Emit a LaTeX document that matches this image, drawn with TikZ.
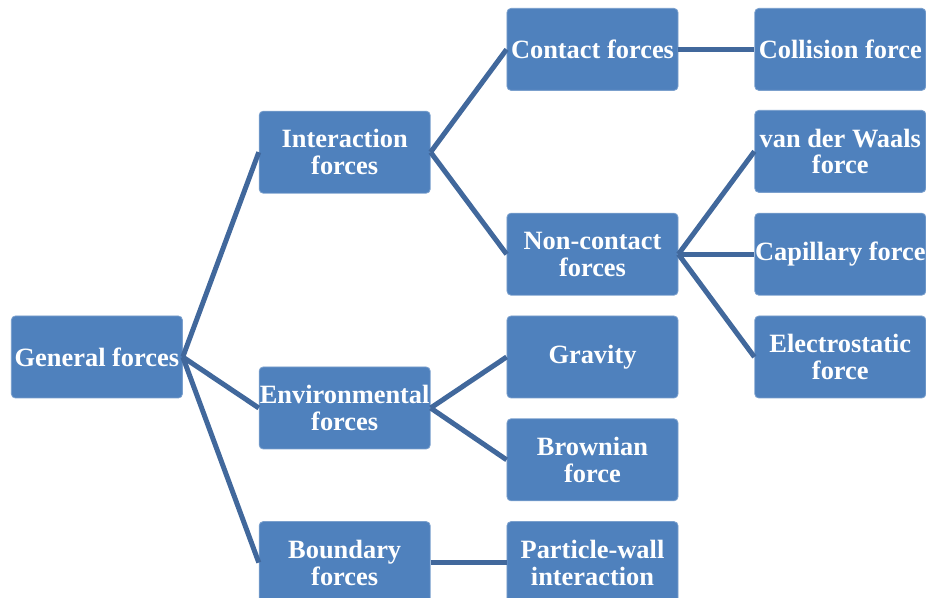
\documentclass[tikz,border=0pt]{standalone}
\usepackage{fontspec}
\setmainfont{Liberation Serif}
\usetikzlibrary{positioning}
\definecolor{boxblue}{HTML}{4F81BD}
\definecolor{linkblue}{HTML}{41689C}

\begin{document}
\begin{tikzpicture}
		[node distance=10pt and 38pt,
		force/.style={rectangle,rounded corners=2pt,draw=boxblue!75!white,fill=boxblue,line width=0.4pt,
			inner sep=0pt,minimum width=85.5pt,minimum height=41pt,align=center,text=white,
			font=\fontsize{13.2}{13.4}\selectfont\bfseries},
		link/.style={draw=linkblue,line width=2.5pt}]
		\useasboundingbox (-296.25pt,178.5pt) rectangle (166.75pt,-120.5pt);

		\node [force] (grav) at (0,0) {Gravity};
		\node [force] (brown) [below=of grav] {Brownian\\force};
		\node [force] (pwall) [below=of brown] {Particle-wall\\interaction};
		\node [force] (noncon) [above=of grav] {Non-contact\\forces};
		\node [force] (contact) [above=61pt of noncon] {Contact forces};

		\node [force] (coll) [right=of contact] {Collision force};
		\node [force] (cap) [right=of noncon] {Capillary force};
		\node [force] (vdw) [above=of cap] {van der Waals\\force};
		\node [force] (elec) [below=of cap] {Electrostatic\\force};

		\node [force] (inter) [left=of noncon, yshift=51pt] {Interaction\\forces};
		\node [force] (env) [left=of grav, yshift=-25.5pt] {Environmental\\forces};
		\node [force] (bound) [left=of pwall] {Boundary\\forces};
		\node [force] (gen) [left=of env, yshift=25.5pt] {General forces};

		\draw [link] (gen.east) -- (inter.west);
		\draw [link] (gen.east) -- (env.west);
		\draw [link] (gen.east) -- (bound.west);
		\draw [link] (inter.east) -- (contact.west);
		\draw [link] (inter.east) -- (noncon.west);
		\draw [link] (env.east) -- (grav.west);
		\draw [link] (env.east) -- (brown.west);
		\draw [link] (bound.east) -- (pwall.west);
		\draw [link] (contact.east) -- (coll.west);
		\draw [link] (noncon.east) -- (vdw.west);
		\draw [link] (noncon.east) -- (cap.west);
		\draw [link] (noncon.east) -- (elec.west);

	\end{tikzpicture}
\end{document}
